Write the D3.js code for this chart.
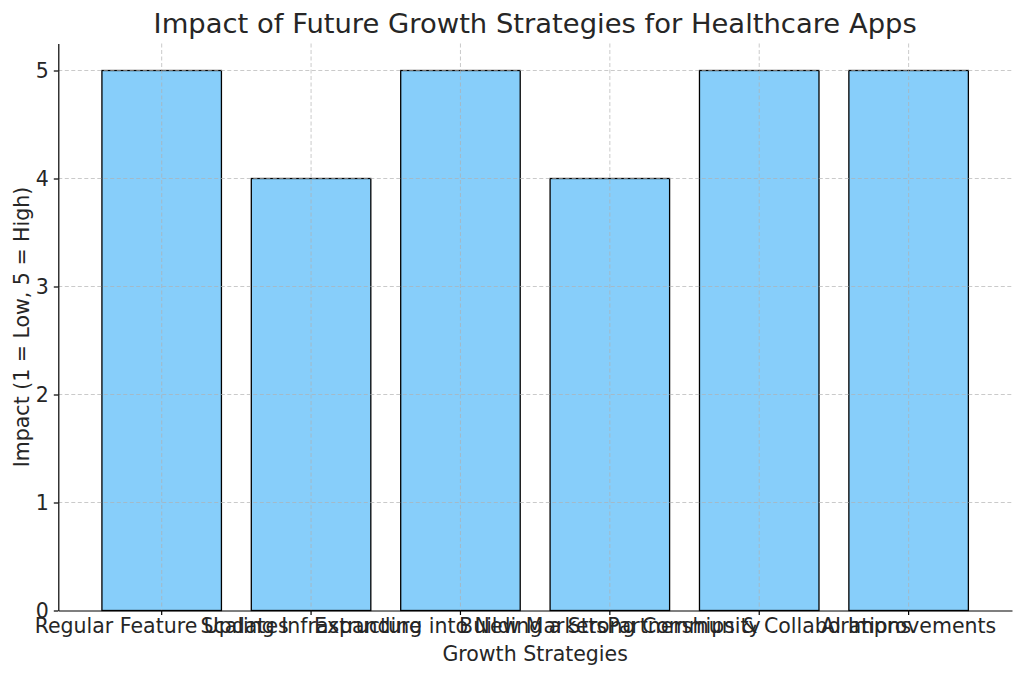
<!DOCTYPE html>
<html><head><meta charset="utf-8">
<script src="https://cdn.jsdelivr.net/npm/d3@7"></script>
<style>body{margin:0;background:#fff;} text{font-family:"DejaVu Sans",sans-serif;fill:#262626;}</style>
</head><body>
<svg id="c" width="1024" height="677"></svg>
<script>
const categories = ["Regular Feature Updates","Scaling Infrastructure","Expanding into New Markets","Building a Strong Community","Partnerships & Collaborations","AI Improvements"];
const impact = [5,4,5,4,5,5];
const yTicks = [0,1,2,3,4,5];
const title = "Impact of Future Growth Strategies for Healthcare Apps";
const xLabel = "Growth Strategies";
const yLabel = "Impact (1 = Low, 5 = High)";

const svg = d3.select("#c");
const L=58.3, R=1012, T=43.5, B=610.5;
const x = d3.scaleBand().domain(categories).range([L,R]).paddingInner(0.2).paddingOuter(0.292);
const y = d3.scaleLinear().domain([0,5.25]).range([B,T]);

svg.append("g").selectAll("rect").data(categories).join("rect")
  .attr("x",d=>x(d)).attr("width",x.bandwidth())
  .attr("y",(d,i)=>y(impact[i])).attr("height",(d,i)=>y(0)-y(impact[i]))
  .attr("fill","#87cefa").attr("stroke","#000").attr("stroke-width",1.3);

const grid = svg.append("g").attr("stroke","#b0b0b0").attr("stroke-opacity",0.75).attr("stroke-dasharray","4,2.5").attr("stroke-width",0.9);
grid.selectAll(".gx").data(categories).join("line").attr("x1",d=>x(d)+x.bandwidth()/2).attr("x2",d=>x(d)+x.bandwidth()/2).attr("y1",T).attr("y2",B);
grid.selectAll(".gy").data(yTicks.slice(1)).join("line").attr("x1",L).attr("x2",R).attr("y1",d=>y(d)).attr("y2",d=>y(d));

const xa = svg.append("g").attr("transform",`translate(0,${B})`).call(d3.axisBottom(x).tickSize(4.5).tickPadding(3).tickSizeOuter(0));
const ya = svg.append("g").attr("transform",`translate(${L},0)`).call(d3.axisLeft(y).tickValues(yTicks).tickFormat(d3.format("d")).tickSize(4.5).tickPadding(5).tickSizeOuter(0));
[xa,ya].forEach(a=>{a.select(".domain").attr("stroke","#000").attr("stroke-width",1.2);a.selectAll(".tick line").attr("stroke","#000").attr("stroke-width",1.2);a.selectAll("text").attr("font-size",20.5).attr("font-family","DejaVu Sans").attr("fill","#262626");});

svg.append("text").attr("x",(L+R)/2).attr("y",33).attr("text-anchor","middle").attr("font-size",27.4).attr("fill","#333").text(title);
svg.append("text").attr("x",(L+R)/2).attr("y",661).attr("text-anchor","middle").attr("font-size",20.5).text(xLabel);
svg.append("text").attr("transform",`translate(29,${(T+B)/2}) rotate(-90)`).attr("text-anchor","middle").attr("font-size",20.5).text(yLabel);
</script>
</body></html>
